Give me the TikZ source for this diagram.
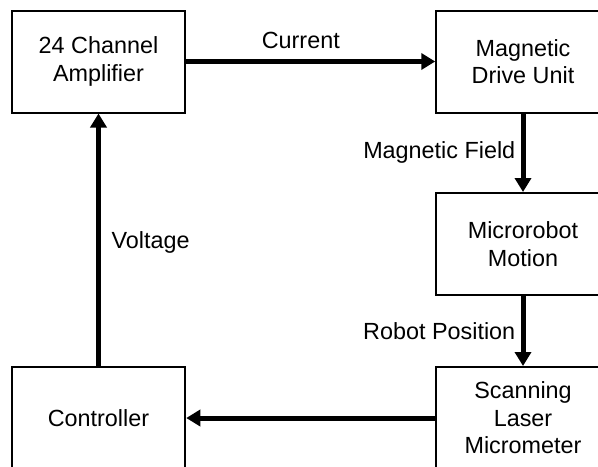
\documentclass[tikz,border=0pt]{standalone}
\usepackage{fontspec}
\setmainfont{Liberation Sans}
\usepackage{tikz}
\usetikzlibrary{
	arrows.meta,
	positioning
}

\begin{document}
\begin{tikzpicture}[
			font=\fontsize{13.3}{15.7}\selectfont,
			bloco/.style={draw, line width=0.04cm, minimum width=3.47cm, minimum height=2.04cm, align=center, inner sep=2pt},
			>={Triangle[length=0.28cm, width=0.32cm]},
			sinal/.style={->, line width=0.1cm},
			rot/.style={inner sep=2pt}
		]

		\clip (0,0) rectangle (11.96,-9.32);

		\node[bloco] (amp) at (1.97,-1.23) {24 Channel\\Amplifier};
		\node[bloco] (drive) at (10.46,-1.23) {Magnetic\\Drive Unit};
		\node[bloco] (motion) at (10.46,-4.88) {Microrobot\\Motion};
		\node[bloco] (laser) at (10.46,-8.36) {Scanning\\Laser\\Micrometer};
		\node[bloco] (ctrl) at (1.97,-8.36) {Controller};

		\draw[sinal] (amp) -- node[rot, pos=0.46, above=4pt] {Current} (drive);
		\draw[sinal] (drive) -- node[rot, left=1pt] {Magnetic Field} (motion);
		\draw[sinal] (motion) -- node[rot, left=1pt] {Robot Position} (laser);
		\draw[sinal] (laser) -- (ctrl);
		\draw[sinal] (ctrl) -- node[rot, pos=0.49, right=4pt] {Voltage} (amp);
	\end{tikzpicture}
\end{document}
